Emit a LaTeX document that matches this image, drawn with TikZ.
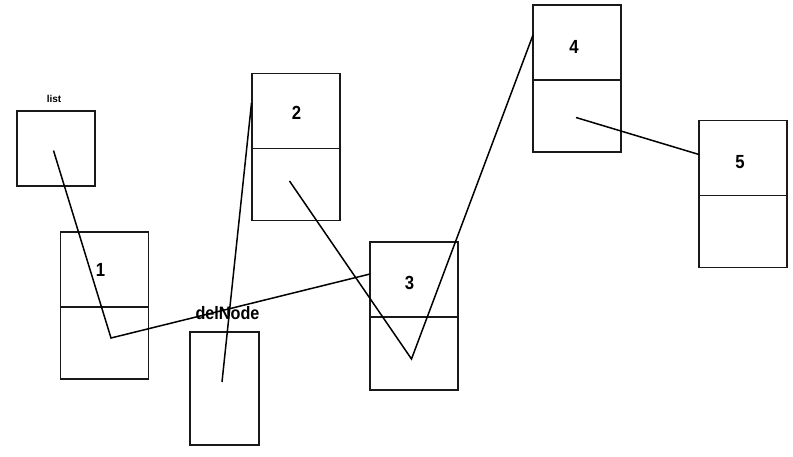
\documentclass[tikz,border=0pt]{standalone}
\usepackage{fontspec}
\setmainfont{Liberation Sans}
\begin{document}
\begin{tikzpicture}[x=1pt,y=-1pt,
  cellbox/.style={draw=black!90,line width=1.7pt,rectangle,inner sep=0pt,minimum width=88pt,minimum height=147pt},
  ptrline/.style={draw=black,line width=1.5pt},
  numlabel/.style={font=\fontsize{19}{19}\selectfont\bfseries,inner sep=0pt,xscale=0.88},
  divider/.style={draw=black!90,line width=1.6pt}]
\useasboundingbox[fill=white] (0,0) rectangle (793,456);
% boxes
\node[cellbox,minimum width=78pt,minimum height=75pt] (listbox) at (56,148.5) {};
\node[cellbox] (n1) at (104.5,305.5) {};
\node[cellbox,minimum width=69pt,minimum height=113pt] (del) at (224.5,388.5) {};
\node[cellbox] (n2) at (296,147) {};
\node[cellbox,minimum height=148pt] (n3) at (414,316) {};
\node[cellbox] (n4) at (577,78.5) {};
\node[cellbox] (n5) at (743,194) {};
% dividers
\foreach \n in {n1,n2,n3,n4,n5}
  \draw[divider] ([yshift=-76pt]\n.north west) -- ([yshift=-76pt]\n.north east);
% labels
\node[font=\fontsize{10}{10}\selectfont\bfseries,inner sep=0pt] (listlab) at (54,99) {list};
\node[font=\fontsize{18}{18}\selectfont\bfseries,inner sep=0pt,xscale=0.9] (dellab) at (227.5,313) {delNode};
\node[numlabel] (l1) at (100.5,270) {1};
\node[numlabel] (l2) at (296.5,113) {2};
\node[numlabel] (l3) at (409.5,283) {3};
\node[numlabel] (l4) at (574,47) {4};
\node[numlabel] (l5) at (740,162) {5};
% pointer coordinates
\coordinate (plist) at (53.5,150.5);
\coordinate (p1) at (111,338);
\coordinate (in3) at (370,274);
\coordinate (pdel) at (222,382);
\coordinate (in2) at (251.5,103);
\coordinate (p2) at (289.5,181);
\coordinate (p3) at (411.5,359);
\coordinate (in4) at (533,35);
\coordinate (p4) at (576,117.5);
\coordinate (in5) at (699,154.5);
% connectors
\draw[ptrline] (plist) -- (p1) -- (in3);
\draw[ptrline] (pdel) -- (in2);
\draw[ptrline] (p2) -- (p3) -- (in4);
\draw[ptrline] (p4) -- (in5);
\end{tikzpicture}
\end{document}
